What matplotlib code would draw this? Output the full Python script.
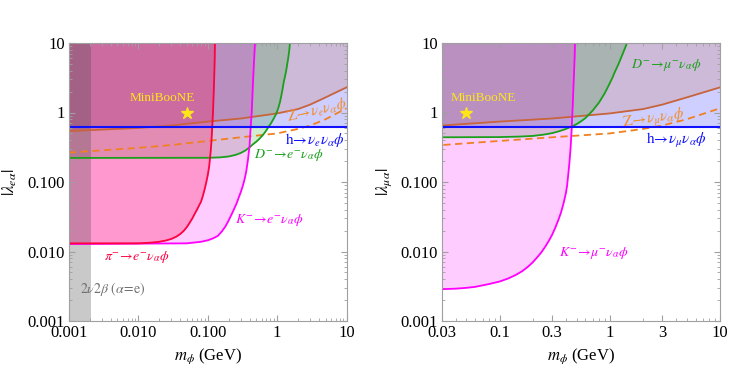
import numpy as np
import matplotlib
matplotlib.use('Agg')
import matplotlib.pyplot as plt
from matplotlib.ticker import FixedLocator, FixedFormatter, NullFormatter, LogLocator

plt.rcParams['font.family'] = ['Liberation Serif', 'DejaVu Serif']
plt.rcParams['mathtext.fontset'] = 'stix'

# ---- data ----
# common Z / h bounds (both panels)
z_m = [0.001, 0.01, 0.03, 0.1, 0.3, 1, 2, 3, 5, 10]
z_lam = [0.54, 0.60, 0.65, 0.74, 0.82, 0.97, 1.12, 1.3, 1.65, 2.3]
zdash_lam = [0.265, 0.31, 0.34, 0.39, 0.44, 0.50, 0.58, 0.65, 0.8, 1.15]
h_lam = 0.625

# left panel (alpha = e)
pi_e_m = [0.001, 0.01, 0.015, 0.02, 0.025, 0.03, 0.035, 0.04, 0.045, 0.05, 0.055,
          0.06, 0.065, 0.07, 0.075, 0.08, 0.085, 0.09, 0.095, 0.1, 0.105, 0.11,
          0.113, 0.116, 0.119, 0.122, 0.124, 0.1258, 0.127]
pi_e_lam = [0.0131, 0.0131, 0.0134, 0.0138, 0.0144, 0.0152, 0.0163, 0.0178, 0.0198,
            0.0225, 0.026, 0.030, 0.035, 0.040, 0.046, 0.052, 0.063, 0.078, 0.098,
            0.125, 0.17, 0.27, 0.38, 0.62, 1.0, 2.0, 3.3, 5.5, 10]
k_e_m = [0.001, 0.05, 0.08, 0.1, 0.12, 0.14, 0.16, 0.18, 0.2, 0.22, 0.24, 0.26,
         0.28, 0.3, 0.32, 0.34, 0.36, 0.38, 0.4, 0.415, 0.43, 0.44, 0.45, 0.46,
         0.47, 0.479]
k_e_lam = [0.0128, 0.0131, 0.0138, 0.0145, 0.0155, 0.0168, 0.0195, 0.023, 0.028,
           0.034, 0.041, 0.049, 0.06, 0.072, 0.088, 0.11, 0.145, 0.21, 0.33, 0.6,
           1.0, 1.7, 2.9, 4.5, 6.8, 10]
d_e_m = [0.001, 0.1, 0.15, 0.2, 0.25, 0.3, 0.35, 0.4, 0.45, 0.5, 0.55, 0.6, 0.65,
         0.7, 0.75, 0.8, 0.85, 0.9, 0.95, 1.0, 1.05, 1.1, 1.15, 1.2, 1.25, 1.3,
         1.35, 1.4, 1.45, 1.5, 1.53]
d_e_lam = [0.222, 0.223, 0.226, 0.233, 0.245, 0.262, 0.285, 0.315, 0.35, 0.38,
           0.415, 0.455, 0.5, 0.555, 0.62, 0.68, 0.75, 0.83, 0.92, 1.04, 1.2, 1.42,
           1.75, 2.2, 2.8, 3.3, 4.0, 5.0, 6.2, 8.0, 10]
bb_m = [0.001, 0.00207]   # 2nu2beta band

# right panel (alpha = mu)
k_mu_m = [0.03, 0.04, 0.05, 0.06, 0.08, 0.1, 0.12, 0.14, 0.16, 0.18, 0.2, 0.22,
          0.24, 0.26, 0.28, 0.3, 0.32, 0.34, 0.36, 0.38, 0.4, 0.41, 0.42, 0.43,
          0.44, 0.45, 0.46, 0.47, 0.48, 0.483]
k_mu_lam = [0.00287, 0.00292, 0.0030, 0.0031, 0.0034, 0.0037, 0.0041, 0.0046, 0.0052,
            0.006, 0.007, 0.0083, 0.0098, 0.0118, 0.0143, 0.0175, 0.022, 0.028,
            0.036, 0.049, 0.07, 0.09, 0.13, 0.19, 0.3, 0.55, 1.2, 2.8, 6.5, 10]
d_mu_m = [0.03, 0.1, 0.15, 0.2, 0.25, 0.3, 0.35, 0.4, 0.45, 0.5, 0.55, 0.6, 0.66,
          0.7, 0.8, 0.9, 0.97, 1.05, 1.1, 1.2, 1.3, 1.38, 1.43]
d_mu_lam = [0.44, 0.443, 0.45, 0.46, 0.48, 0.505, 0.54, 0.58, 0.63, 0.68, 0.75,
            0.83, 0.97, 1.07, 1.4, 1.9, 2.4, 3.1, 3.7, 5.0, 6.8, 8.6, 10]

miniboone = (0.05, 1.0)

# colours
c_h = '#1010ff'
c_z = '#c8643c'
c_zd = '#f08020'
c_zlab = '#f08c28'
c_d = '#1aa01a'
c_k = '#ff00ff'
c_pi = '#ff0040'
c_star = '#ffe619'

TOP = 10
fig = plt.figure(figsize=(7.47, 3.84), dpi=100)
axL = fig.add_axes([69/747, 1-321/384, 277.5/747, 278/384])
axR = fig.add_axes([442/747, 1-321/384, 278/747, 278/384])


def draw_common(ax, xmin):
    ax.fill_between([xmin, 10], h_lam, TOP, color=c_h, alpha=0.2, lw=0)
    ax.fill_between(z_m, z_lam, TOP, color=c_z, alpha=0.2, lw=0)


def style(ax, xlim):
    ax.set_xscale('log')
    ax.set_yscale('log')
    ax.set_xlim(*xlim)
    ax.set_ylim(0.001, 10)
    for s in ax.spines.values():
        s.set_color('#a0a0a0')
        s.set_linewidth(0.8)
    ax.tick_params(which='both', direction='in', top=True, right=True,
                   color='#a0a0a0', labelsize=12, pad=3)
    ax.tick_params(which='major', length=4)
    ax.tick_params(which='minor', length=2)
    ax.yaxis.set_major_locator(FixedLocator([0.001, 0.01, 0.1, 1, 10]))
    ax.yaxis.set_major_formatter(FixedFormatter(['0.001', '0.010', '0.100', '1', '10']))
    ax.yaxis.set_minor_locator(LogLocator(base=10, subs=np.arange(2, 10)))
    ax.yaxis.set_minor_formatter(NullFormatter())


# ---------- left panel ----------
ax = axL
draw_common(ax, 0.001)
ax.fill_between(d_e_m, d_e_lam, TOP, color=c_d, alpha=0.2, lw=0)
ax.fill_between(k_e_m, k_e_lam, TOP, color=c_k, alpha=0.2, lw=0)
ax.fill_between(pi_e_m, pi_e_lam, TOP, color=c_pi, alpha=0.25, lw=0)
ax.fill_between(bb_m, 0.001, TOP, color='#4d4d4d', alpha=0.3, lw=0)
ax.plot(z_m, zdash_lam, color=c_zd, lw=1.3, ls=(0, (4, 2.5)))
ax.plot(z_m, z_lam, color=c_z, lw=1.3)
ax.plot(d_e_m, d_e_lam, color=c_d, lw=1.3)
ax.plot(k_e_m, k_e_lam, color=c_k, lw=1.3)
ax.plot(pi_e_m, pi_e_lam, color=c_pi, lw=1.3)
ax.axhline(h_lam, color=c_h, lw=1.5)
ax.plot(*miniboone, marker='*', color=c_star, ms=9, ls='none')
ax.text(0.022, 1.6, 'MiniBooNE', color=c_star, fontsize=9.5, ha='center', va='center')
ax.text(3.7, 1.09, r'$\mathrm{Z}\!\rightarrow\!\nu_e\nu_\alpha\phi$', color=c_zlab,
        fontsize=11, ha='center', va='center', rotation=13)
ax.text(3.5, 0.40, r'$\mathrm{h}\!\rightarrow\!\nu_e\nu_\alpha\phi$', color=c_h,
        fontsize=11, ha='center', va='center')
ax.text(1.45, 0.245, r'$D^{-}\!\rightarrow\! e^{-}\nu_\alpha\phi$', color=c_d,
        fontsize=10, ha='center', va='center')
ax.text(0.78, 0.0284, r'$K^{-}\!\rightarrow\! e^{-}\nu_\alpha\phi$', color=c_k,
        fontsize=10, ha='center', va='center')
ax.text(0.0094, 0.0084, r'$\pi^{-}\!\rightarrow\! e^{-}\nu_\alpha\phi$', color=c_pi,
        fontsize=10, ha='center', va='center')
ax.text(0.0043, 0.00286, r'$2\nu2\beta$ $(\alpha\!=\!\mathrm{e})$', color='#707070',
        fontsize=10, ha='center', va='center')
style(ax, (0.001, 10))
ax.xaxis.set_major_locator(FixedLocator([0.001, 0.01, 0.1, 1, 10]))
ax.xaxis.set_major_formatter(FixedFormatter(['0.001', '0.010', '0.100', '1', '10']))
ax.xaxis.set_minor_locator(LogLocator(base=10, subs=np.arange(2, 10)))
ax.xaxis.set_minor_formatter(NullFormatter())
ax.set_ylabel(r'$|\lambda_{e\alpha}|$', fontsize=12)
ax.set_xlabel(r'$m_\phi$ (GeV)', fontsize=12)
ax.yaxis.set_label_coords(-0.18, 0.5)
ax.xaxis.set_label_coords(0.5, -0.09)

# ---------- right panel ----------
ax = axR
draw_common(ax, 0.03)
ax.fill_between(d_mu_m, d_mu_lam, TOP, color=c_d, alpha=0.2, lw=0)
ax.fill_between(k_mu_m, k_mu_lam, TOP, color=c_k, alpha=0.2, lw=0)
ax.plot(z_m, zdash_lam, color=c_zd, lw=1.3, ls=(0, (4, 2.5)))
ax.plot(z_m, z_lam, color=c_z, lw=1.3)
ax.plot(d_mu_m, d_mu_lam, color=c_d, lw=1.3)
ax.plot(k_mu_m, k_mu_lam, color=c_k, lw=1.3)
ax.axhline(h_lam, color=c_h, lw=1.5)
ax.plot(*miniboone, marker='*', color=c_star, ms=9, ls='none')
ax.text(0.071, 1.6, 'MiniBooNE', color=c_star, fontsize=9.5, ha='center', va='center')
ax.text(3.28, 4.8, r'$D^{-}\!\rightarrow\!\mu^{-}\nu_\alpha\phi$', color=c_d,
        fontsize=10, ha='center', va='center')
ax.text(2.48, 0.80, r'$\mathrm{Z}\!\rightarrow\!\nu_\mu\nu_\alpha\phi$', color=c_zlab,
        fontsize=11, ha='center', va='center', rotation=8)
ax.text(4.05, 0.40, r'$\mathrm{h}\!\rightarrow\!\nu_\mu\nu_\alpha\phi$', color=c_h,
        fontsize=11, ha='center', va='center')
ax.text(0.71, 0.0094, r'$K^{-}\!\rightarrow\!\mu^{-}\nu_\alpha\phi$', color=c_k,
        fontsize=10, ha='center', va='center')
style(ax, (0.03, 10))
ax.xaxis.set_major_locator(FixedLocator([0.03, 0.1, 0.3, 1, 3, 10]))
ax.xaxis.set_major_formatter(FixedFormatter(['0.03', '0.1', '0.3', '1', '3', '10']))
ax.xaxis.set_minor_locator(LogLocator(base=10, subs=np.arange(2, 10)))
ax.xaxis.set_minor_formatter(NullFormatter())
ax.set_ylabel(r'$|\lambda_{\mu\alpha}|$', fontsize=12)
ax.set_xlabel(r'$m_\phi$ (GeV)', fontsize=12)
ax.yaxis.set_label_coords(-0.173, 0.5)
ax.xaxis.set_label_coords(0.5, -0.09)

fig.savefig('out.png', dpi=100)
